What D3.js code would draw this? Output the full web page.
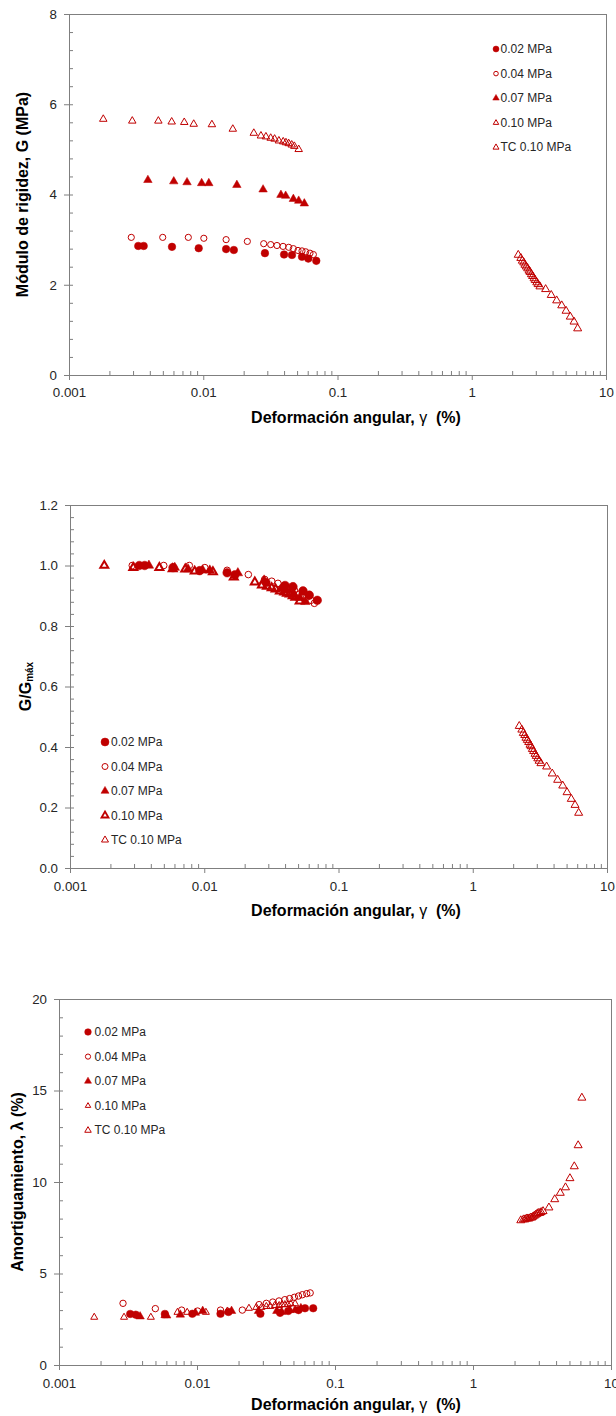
<!DOCTYPE html>
<html>
<head>
<meta charset="utf-8">
<script src="https://cdn.jsdelivr.net/npm/d3@7"></script>
<style>
    body { margin: 0; background: #fff; }
    svg text { font-family: "Liberation Sans", Arial, sans-serif; }
</style>
</head>
<body>
<div id="svg_container"></div>
<script>
// ---------------- DATA ----------------
var x_tick_labels = [0.001, 0.01, 0.1, 1, 10];
var series_names = ['0.02 MPa', '0.04 MPa', '0.07 MPa', '0.10 MPa', 'TC 0.10 MPa'];

// shear strain, gamma (%)
var gamma_002 = [0.00328, 0.00360, 0.00585, 0.00925, 0.0148, 0.0169, 0.0288, 0.0400, 0.0458, 0.0544, 0.0606, 0.0695];
var gamma_004 = [0.00291, 0.00499, 0.00774, 0.0101, 0.0148, 0.0213, 0.0282, 0.0318, 0.0354, 0.0393, 0.0433, 0.0469, 0.0508, 0.0544, 0.0580, 0.0624, 0.0661];
var gamma_007 = [0.00387, 0.00603, 0.00757, 0.00973, 0.0110, 0.0178, 0.0279, 0.0379, 0.0411, 0.0469, 0.0514, 0.0566];
var gamma_010 = [0.0018, 0.00296, 0.00463, 0.00582, 0.00722, 0.00849, 0.0116, 0.0166, 0.0238, 0.0269, 0.0293, 0.0318, 0.0340, 0.0366, 0.0394, 0.0413, 0.0433, 0.0456, 0.0477, 0.0514];
var gamma_tc = [2.22, 2.32, 2.38, 2.44, 2.49, 2.55, 2.61, 2.67, 2.72, 2.78, 2.84, 2.91, 2.97, 3.05, 3.12, 3.22, 3.55, 3.91, 4.29, 4.68, 5.04, 5.42, 5.78, 6.15];

// shear modulus G (MPa)
var G_002 = [2.86, 2.86, 2.84, 2.81, 2.79, 2.77, 2.70, 2.67, 2.66, 2.62, 2.58, 2.53];
var G_004 = [3.05, 3.05, 3.05, 3.03, 3.00, 2.96, 2.91, 2.89, 2.87, 2.85, 2.83, 2.80, 2.76, 2.75, 2.73, 2.70, 2.67];
var G_007 = [4.32, 4.29, 4.27, 4.25, 4.25, 4.21, 4.11, 3.99, 3.97, 3.90, 3.86, 3.80];
var G_010 = [5.67, 5.63, 5.63, 5.61, 5.60, 5.56, 5.55, 5.45, 5.36, 5.30, 5.28, 5.25, 5.23, 5.19, 5.17, 5.15, 5.13, 5.10, 5.07, 5.00];
var G_tc = [2.66, 2.59, 2.53, 2.49, 2.44, 2.40, 2.36, 2.31, 2.28, 2.23, 2.19, 2.14, 2.10, 2.05, 2.01, 1.96, 1.90, 1.77, 1.65, 1.54, 1.42, 1.29, 1.18, 1.03];

// G/Gmax
var ratio_002 = [1.00, 1.00, 0.993, 0.983, 0.976, 0.969, 0.944, 0.934, 0.930, 0.916, 0.902, 0.885];
var ratio_004 = [1.00, 1.00, 1.00, 0.993, 0.984, 0.970, 0.954, 0.948, 0.941, 0.934, 0.928, 0.918, 0.905, 0.902, 0.895, 0.885, 0.875];
var ratio_007 = [1.00, 0.993, 0.988, 0.984, 0.984, 0.975, 0.951, 0.924, 0.919, 0.903, 0.894, 0.880];
var ratio_010 = [1.00, 0.993, 0.993, 0.989, 0.988, 0.981, 0.979, 0.961, 0.945, 0.935, 0.931, 0.926, 0.922, 0.915, 0.912, 0.908, 0.905, 0.899, 0.894, 0.882];
var ratio_tc = [0.469, 0.457, 0.446, 0.439, 0.430, 0.423, 0.416, 0.407, 0.402, 0.393, 0.386, 0.377, 0.370, 0.362, 0.354, 0.346, 0.335, 0.312, 0.291, 0.272, 0.250, 0.228, 0.208, 0.182];

// damping (%)
var damp_002 = [2.79, 2.75, 2.79, 2.80, 2.80, 2.90, 2.80, 2.85, 2.95, 3.00, 3.10, 3.10];
var damp_004 = [3.37, 3.08, 3.00, 2.95, 3.00, 3.00, 3.30, 3.37, 3.44, 3.50, 3.57, 3.63, 3.70, 3.77, 3.84, 3.90, 3.94];
var damp_007 = [2.65, 2.70, 2.75, 2.85, 2.95, 2.95, 2.95, 2.95, 2.90, 3.00, 3.00, 3.10];
var damp_010 = [2.61, 2.61, 2.61, 2.70, 2.88, 2.88, 2.88, 2.95, 3.10, 3.15, 3.15, 3.20, 3.20, 3.25, 3.25, 3.30, 3.30, 3.30, 3.35, 3.35];
var damp_tc = [7.90, 7.95, 7.95, 8.00, 8.00, 8.00, 8.05, 8.05, 8.10, 8.15, 8.20, 8.25, 8.30, 8.30, 8.35, 8.40, 8.60, 9.05, 9.40, 9.70, 10.20, 10.85, 12.00, 14.60];

var gammas = [gamma_002, gamma_004, gamma_007, gamma_010, gamma_tc];

// ---------------- LAYOUT ----------------
var red = '#c00000';
var axis_color = '#7f7f7f';
var text_color = '#262626';

// marker kinds per series: filled circle, open circle, filled triangle, open triangle, TC triangle
var kinds = ['fc', 'oc', 'ft', 'ot', 'tc'];

var panels = [
    {
        box: {left: 69, right: 606, top: 14, bottom: 375},
        y_max: 8, y_step: 2, y_minor: 0.4, y_format: d3.format('d'),
        values: [G_002, G_004, G_007, G_010, G_tc],
        y_title: ['Módulo de rigidez, G (MPa)'], y_title_x: 22,
        tick_label_y: 392, x_title_y: 417,
        size: {fc: 3.8, oc: 3.1, ft: 8.5, ot: 7.5, tc: 8, ot_w: 1},
        legend: {x: 496, y: 49, gap: 24.6, size: {fc: 3, oc: 2.3, ft: 6.5, ot: 5.5, tc: 6, ot_w: 1}, text_dx: 4.5}
    },
    {
        box: {left: 70, right: 607, top: 505, bottom: 868},
        y_max: 1.2, y_step: 0.2, y_minor: 0.04, y_format: d3.format('.1f'),
        values: [ratio_002, ratio_004, ratio_007, ratio_010, ratio_tc],
        y_title: ['G/G', 'máx'], y_title_x: 25,
        tick_label_y: 886, x_title_y: 910,
        size: {fc: 4.3, oc: 3.3, ft: 9.5, ot: 8, tc: 8, ot_w: 2},
        legend: {x: 105, y: 742, gap: 24.5, size: {fc: 4, oc: 3, ft: 8, ot: 7, tc: 7, ot_w: 1.8}, text_dx: 6}
    },
    {
        box: {left: 59, right: 611, top: 999, bottom: 1365},
        y_max: 20, y_step: 5, y_minor: 1, y_format: d3.format('d'),
        values: [damp_002, damp_004, damp_007, damp_010, damp_tc],
        y_title: ['Amortiguamiento, λ (%)'], y_title_x: 17,
        tick_label_y: 1383, x_title_y: 1404,
        size: {fc: 3.8, oc: 3.2, ft: 8.5, ot: 7, tc: 8, ot_w: 1},
        legend: {x: 88, y: 1032, gap: 24.6, size: {fc: 3.3, oc: 2.6, ft: 7, ot: 5.5, tc: 6.5, ot_w: 1}, text_dx: 6.5}
    }
];

var svg = d3.select('#svg_container')
    .append('svg')
    .attr('width', 616)
    .attr('height', 1416);

panels.forEach(function(p) { render_panel(p); });

// ---------------- FUNCTIONS ----------------
function marker_path(kind, size) {
    if (kind == 'fc' || kind == 'oc') {
        return d3.symbol().type(d3.symbolCircle).size(Math.PI * size[kind] * size[kind])();
    }
    var s = size[kind];
    return d3.symbol().type(d3.symbolTriangle).size(0.433 * s * s)();
}

function style_marker(sel, kind, size) {
    sel.attr('d', marker_path(kind, size));
    if (kind == 'fc' || kind == 'ft') {
        sel.attr('fill', red).attr('stroke', red).attr('stroke-width', 0.5);
    } else {
        sel.attr('fill', 'none').attr('stroke', red)
            .attr('stroke-width', kind == 'ot' ? size.ot_w : 1);
    }
}

function render_panel(p) {
    var b = p.box;
    var x = d3.scaleLog().domain([0.001, 10]).range([b.left, b.right]);
    var y = d3.scaleLinear().domain([0, p.y_max]).range([b.bottom, b.top]);

    var g = svg.append('g');

    // frame (top and right)
    g.append('line').attr('x1', b.left).attr('x2', b.right + 0.5)
        .attr('y1', b.top + 0.5).attr('y2', b.top + 0.5)
        .attr('stroke', axis_color);
    g.append('line').attr('x1', b.right + 0.5).attr('x2', b.right + 0.5)
        .attr('y1', b.top).attr('y2', b.bottom)
        .attr('stroke', axis_color);

    // minor ticks, pointing inwards
    var x_minor = [];
    for (var e = -3; e < 1; e++) {
        for (var k = 2; k < 10; k++) x_minor.push(k * Math.pow(10, e));
    }
    var y_minor = d3.range(0, p.y_max + 1e-9, p.y_minor);

    g.append('g').attr('transform', 'translate(0,' + b.bottom + ')')
        .call(d3.axisBottom(x).tickValues(x_minor).tickSize(-4).tickFormat(''))
        .call(clean_axis);
    g.append('g').attr('transform', 'translate(' + b.left + ',0)')
        .call(d3.axisLeft(y).tickValues(y_minor).tickSize(-4).tickFormat(''))
        .call(clean_axis);

    // major ticks, pointing outwards
    var xAxis = g.append('g').attr('transform', 'translate(0,' + b.bottom + ')')
        .call(d3.axisBottom(x).tickValues(x_tick_labels).tickSize(5).tickSizeOuter(0)
            .tickFormat(function(d) { return String(d); }))
        .call(style_axis);
    xAxis.selectAll('text').attr('y', null).attr('dy', null)
        .attr('transform', 'translate(0,' + (p.tick_label_y - b.bottom) + ')')
        .attr('dominant-baseline', 'central');

    var y_major = d3.range(0, p.y_max + 1e-9, p.y_step);
    g.append('g').attr('transform', 'translate(' + b.left + ',0)')
        .call(d3.axisLeft(y).tickValues(y_major).tickSize(5).tickPadding(7)
            .tickSizeOuter(0).tickFormat(p.y_format))
        .call(style_axis);

    // axis titles
    var xt = g.append('text')
        .attr('x', 356).attr('y', p.x_title_y)
        .attr('text-anchor', 'middle').attr('dominant-baseline', 'central')
        .attr('font-size', 16).attr('font-weight', 'bold').attr('fill', '#000');
    xt.append('tspan').text('Deformación angular, ');
    xt.append('tspan').attr('font-weight', 'normal').text('γ');
    xt.append('tspan').text('\u00a0 (%)');

    var yt = g.append('text')
        .attr('transform', 'translate(' + p.y_title_x + ',' + ((b.top + b.bottom) / 2) + ') rotate(-90)')
        .attr('text-anchor', 'middle').attr('dominant-baseline', 'central')
        .attr('font-size', 16).attr('font-weight', 'bold').attr('fill', '#000');
    yt.append('tspan').text(p.y_title[0]);
    if (p.y_title.length > 1) {
        yt.append('tspan').attr('font-size', 10).attr('dy', 4).text(p.y_title[1]);
    }

    // data points
    series_names.forEach(function(name, i) {
        var pts = gammas[i].map(function(gv, j) { return {x: gv, y: p.values[i][j]}; });
        g.append('g').selectAll('path')
            .data(pts)
            .enter()
            .append('path')
            .attr('transform', function(d) { return 'translate(' + x(d.x) + ',' + y(d.y) + ')'; })
            .each(function() { style_marker(d3.select(this), kinds[i], p.size); });
    });

    // legend
    var leg = g.append('g');
    series_names.forEach(function(name, i) {
        var ly = p.legend.y + i * p.legend.gap;
        leg.append('path')
            .attr('transform', 'translate(' + p.legend.x + ',' + ly + ')')
            .call(function(sel) { style_marker(sel, kinds[i], p.legend.size); });
        leg.append('text')
            .attr('x', p.legend.x + p.legend.text_dx).attr('y', ly)
            .attr('dominant-baseline', 'central')
            .attr('font-size', 12).attr('fill', text_color)
            .text(name);
    });
}

function clean_axis(sel) {
    sel.select('.domain').remove();
    sel.selectAll('line').attr('stroke', axis_color);
}

function style_axis(sel) {
    sel.select('.domain').attr('stroke', axis_color);
    sel.selectAll('line').attr('stroke', axis_color);
    sel.selectAll('text')
        .attr('font-size', 13.3)
        .attr('font-family', '"Liberation Sans", Arial, sans-serif')
        .attr('fill', text_color);
}
</script>
</body>
</html>
